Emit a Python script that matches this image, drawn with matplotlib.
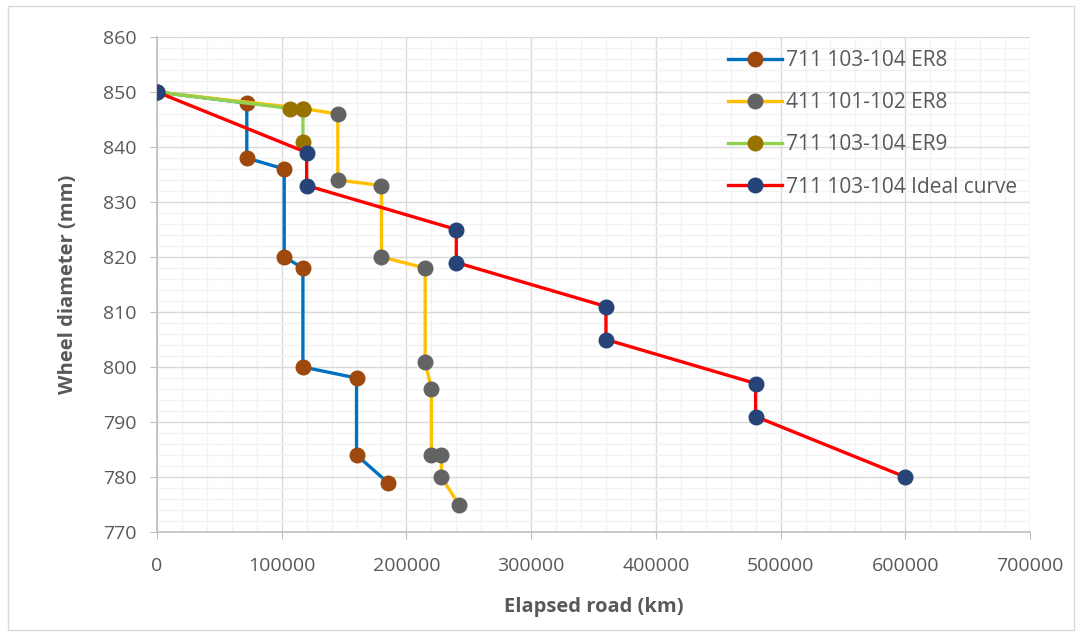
import matplotlib
matplotlib.use("Agg")
import matplotlib.pyplot as plt
from matplotlib.patches import Rectangle
from matplotlib.ticker import MultipleLocator

plt.rcParams['font.family'] = ['Open Sans', 'DejaVu Sans']

# Elapsed road (km) and wheel diameter (mm) per series
er8_711_km = [0, 72000, 72000, 102000, 102000, 117000, 117000, 160000, 160000, 185000]
er8_711_mm = [850, 848, 838, 836, 820, 818, 800, 798, 784, 779]

er8_411_km = [0, 117000, 145000, 145000, 180000, 180000, 215000, 215000, 220000, 220000, 228000, 228000, 242000]
er8_411_mm = [850, 847, 846, 834, 833, 820, 818, 801, 796, 784, 784, 780, 775]

er9_711_km = [0, 107000, 117000, 117000]
er9_711_mm = [850, 847, 847, 841]

ideal_km = [0, 120000, 120000, 240000, 240000, 360000, 360000, 480000, 480000, 600000]
ideal_mm = [850, 839, 833, 825, 819, 811, 805, 797, 791, 780]

labels = ["711 103-104 ER8", "411 101-102 ER8", "711 103-104 ER9", "711 103-104 Ideal curve"]
line_colors = ["#0070C0", "#FFC000", "#92D050", "#FF0000"]
marker_colors = ["#9E480E", "#636363", "#997300", "#264478"]

x_ticks = [0, 100000, 200000, 300000, 400000, 500000, 600000, 700000]
y_ticks = [770, 780, 790, 800, 810, 820, 830, 840, 850, 860]

fig = plt.figure(figsize=(10.81, 6.39), dpi=100)
fig.patches.append(Rectangle((8 / 1081, 9 / 639), 1066 / 1081, 624 / 639,
                             transform=fig.transFigure, fill=False,
                             edgecolor="#D9D9D9", linewidth=1.0))
ax = fig.add_axes([157 / 1081, 1 - 532 / 639, 873 / 1081, 495 / 639])

series = [(er8_711_km, er8_711_mm), (er8_411_km, er8_411_mm),
          (er9_711_km, er9_711_mm), (ideal_km, ideal_mm)]
for (xs, ys), lab, lc, mc in zip(series, labels, line_colors, marker_colors):
    ax.plot(xs, ys, color=lc, linewidth=2.4, marker="o", markersize=10.5,
            markerfacecolor=mc, markeredgecolor=mc, label=lab, zorder=3)

ax.set_xlim(0, 700000)
ax.set_ylim(770, 860)
ax.set_xticks(x_ticks)
ax.set_yticks(y_ticks)
ax.set_xticklabels([str(v) for v in x_ticks])
ax.set_yticklabels([str(v) for v in y_ticks])
ax.xaxis.set_minor_locator(MultipleLocator(20000))
ax.yaxis.set_minor_locator(MultipleLocator(2))

ax.grid(which="major", color="#D9D9D9", linewidth=1.0, zorder=0)
ax.grid(which="minor", color="#F2F2F2", linewidth=1.0, zorder=0)
ax.set_axisbelow(True)

for side in ("top", "right"):
    ax.spines[side].set_visible(False)
for side in ("left", "bottom"):
    ax.spines[side].set_color("#BFBFBF")
    ax.spines[side].set_linewidth(1.2)

ax.tick_params(which="major", direction="out", length=5, color="#BFBFBF",
               labelcolor="#595959", labelsize=14)
ax.tick_params(axis="x", which="major", pad=13)
ax.tick_params(axis="y", which="major", pad=10)
ax.tick_params(which="minor", length=0)

ax.set_xlabel("Elapsed road (km)", fontsize=14.5, fontweight="bold",
              color="#595959", labelpad=16)
ax.set_ylabel("Wheel diameter (mm)", fontsize=14.5, fontweight="bold",
              color="#595959", labelpad=18)

leg = ax.legend(loc="upper left", bbox_to_anchor=(728 / 1081, 1 - 50 / 639),
                bbox_transform=fig.transFigure, frameon=False, fontsize=15,
                handlelength=2.6, handletextpad=0.2, labelspacing=1.02,
                borderpad=0, borderaxespad=0)
for t in leg.get_texts():
    t.set_color("#595959")

fig.savefig("out.png", dpi=100, facecolor="white")
